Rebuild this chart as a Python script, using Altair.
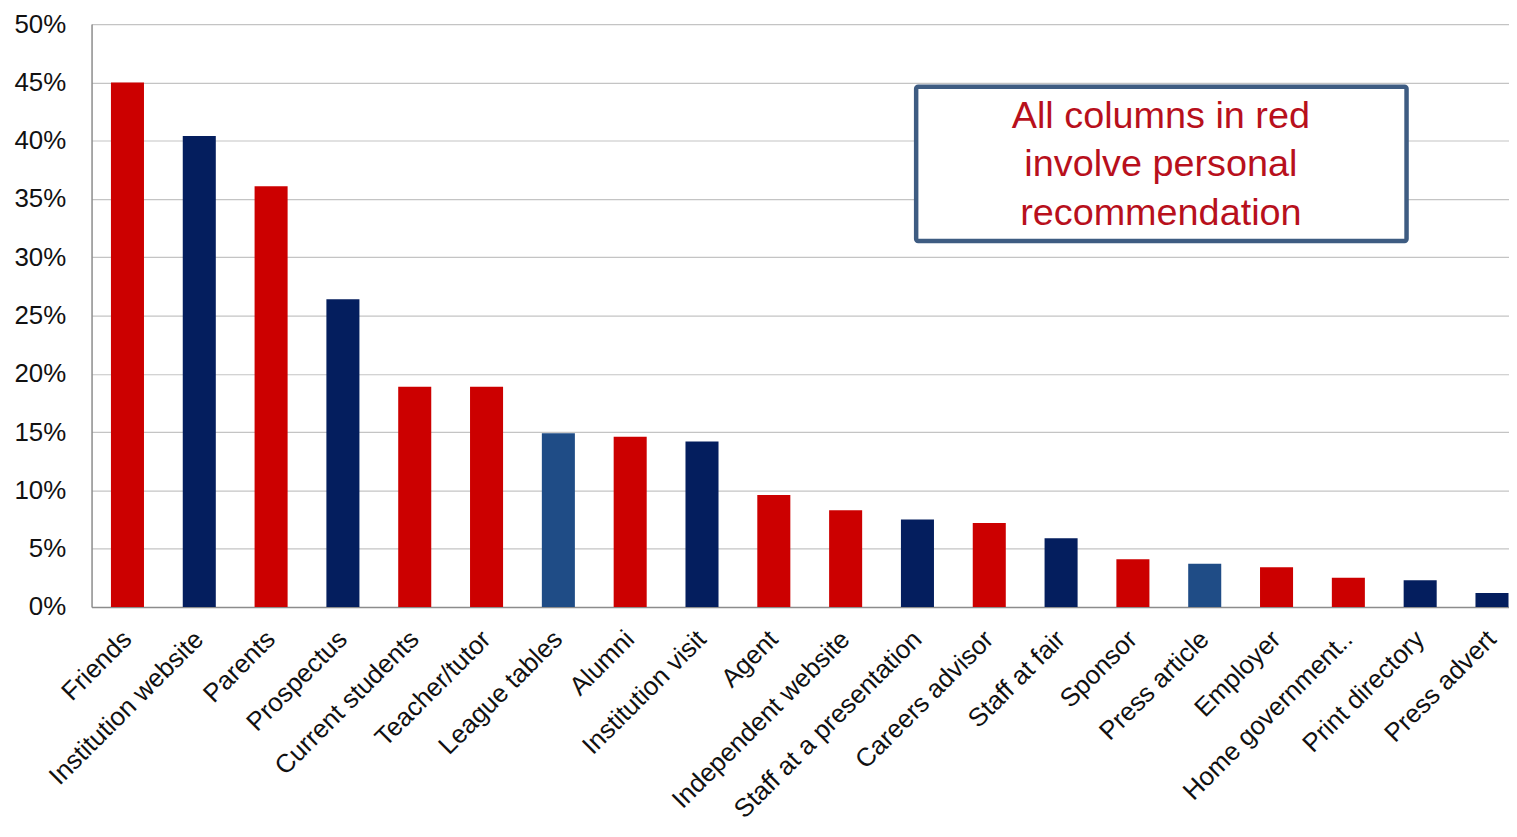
import altair as alt
import pandas as pd

categories = ["Friends", "Institution website", "Parents", "Prospectus", "Current students",
              "Teacher/tutor", "League tables", "Alumni", "Institution visit", "Agent",
              "Independent website", "Staff at a presentation", "Careers advisor", "Staff at fair",
              "Sponsor", "Press article", "Employer", "Home government..", "Print directory",
              "Press advert"]
values = [0.450, 0.404, 0.361, 0.264, 0.189, 0.189, 0.149, 0.146, 0.142, 0.096,
          0.083, 0.075, 0.072, 0.059, 0.041, 0.037, 0.034, 0.025, 0.023, 0.012]
groups = ["personal", "other", "personal", "other", "personal",
          "personal", "ranking", "personal", "other", "personal",
          "personal", "other", "personal", "other",
          "personal", "ranking", "personal", "personal", "other", "other"]
group_domain = ["personal", "other", "ranking"]
group_colors = ["#CC0000", "#041E5E", "#1F4C86"]
y_ticks = [0, 0.05, 0.10, 0.15, 0.20, 0.25, 0.30, 0.35, 0.40, 0.45, 0.50]
note_lines = ["All columns in red", "involve personal", "recommendation"]

df = pd.DataFrame({"source": categories, "share": values, "group": groups})

FONT = "Liberation Sans"

bars = alt.Chart(df).mark_bar().encode(
    x=alt.X("source:N", sort=categories,
            scale=alt.Scale(paddingInner=0.54, paddingOuter=0.27, range=[0, 1444]),
            axis=alt.Axis(title=None, labelAngle=-45, labelAlign="right", labelBaseline="middle",
                          labelFontSize=26, labelFont=FONT, labelColor="#111111",
                          labelPadding=28, ticks=False, domainColor="#8C8C8C",
                          domainWidth=1.5, labelLimit=400)),
    y=alt.Y("share:Q", scale=alt.Scale(domain=[0, 0.5], nice=False),
            axis=alt.Axis(title=None, values=y_ticks, format=".0%", labelFontSize=26,
                          labelFont=FONT, labelColor="#111111", labelPadding=26, ticks=False,
                          domainColor="#8C8C8C", domainWidth=1.5, gridColor="#C4C4C4",
                          gridWidth=1.2)),
    color=alt.Color("group:N", scale=alt.Scale(domain=group_domain, range=group_colors),
                    legend=None),
)

box = alt.Chart(pd.DataFrame({"k": [0]})).mark_rect(
    fill="white", stroke="#3E5C82", strokeWidth=4.5, cornerRadius=2
).encode(x=alt.value(829), x2=alt.value(1322), y=alt.value(63), y2=alt.value(218))

note = alt.Chart(pd.DataFrame({"t": [note_lines]})).mark_text(
    font=FONT, fontSize=38, color="#B8101C", lineHeight=49, align="center", baseline="top"
).encode(text="t", x=alt.value(1075), y=alt.value(74))

chart = alt.layer(bars, box, note).properties(
    width=1425, height=586,
    autosize=alt.AutoSizeParams(type="none"),
    padding={"left": 84, "top": 14, "right": 0, "bottom": 220},
    background="white",
).configure_view(stroke=None)

chart.save("out.html", embed_options={"renderer": "svg", "actions": False})
